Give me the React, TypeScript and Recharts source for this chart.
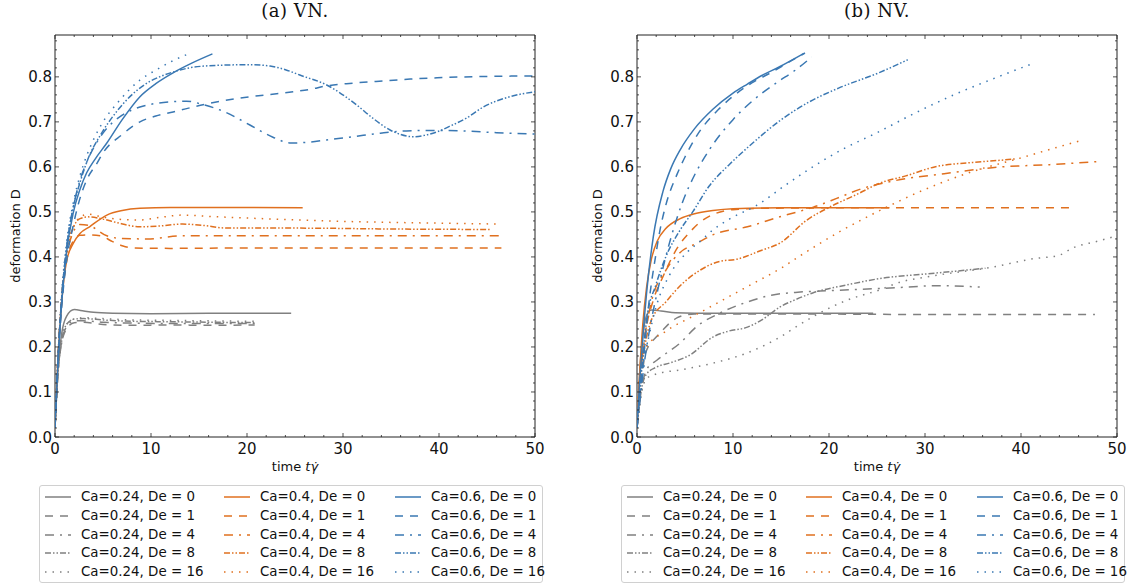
import { LineChart, Line, XAxis, YAxis, ReferenceArea } from "recharts";

type Pt = [number, number];

// ---- (a) VN. ----
const vnGray0: Pt[] = [[0, 0.02], [0.3, 0.15], [0.7, 0.23], [1.2, 0.268], [2, 0.283], [3, 0.28], [4, 0.277], [6, 0.275], [10, 0.274], [16, 0.275], [24.6, 0.275]];
const vnGray1: Pt[] = [[0, 0.02], [0.3, 0.14], [0.7, 0.21], [1.2, 0.24], [2, 0.254], [3, 0.255], [5, 0.25], [8, 0.248], [12, 0.249], [16, 0.248], [20.8, 0.249]];
const vnGray4: Pt[] = [[0, 0.02], [0.3, 0.14], [0.7, 0.21], [1.2, 0.245], [2, 0.258], [3, 0.258], [5, 0.255], [8, 0.253], [12, 0.252], [16, 0.252], [20.8, 0.252]];
const vnGray8: Pt[] = [[0, 0.02], [0.3, 0.14], [0.7, 0.215], [1.2, 0.25], [2, 0.262], [3, 0.263], [5, 0.26], [8, 0.257], [12, 0.256], [16, 0.255], [20.8, 0.254]];
const vnGray16: Pt[] = [[0, 0.02], [0.3, 0.14], [0.7, 0.215], [1.2, 0.25], [2, 0.262], [3, 0.265], [5, 0.263], [8, 0.26], [12, 0.259], [16, 0.258], [20.8, 0.257]];

const vnOrange0: Pt[] = [[0, 0.02], [0.3, 0.17], [0.7, 0.3], [1.2, 0.39], [1.9, 0.43], [2.6, 0.452], [3.6, 0.467], [5.4, 0.493], [7, 0.503], [8.85, 0.508], [12, 0.51], [18, 0.51], [25.8, 0.509]];
const vnOrange1: Pt[] = [[0, 0.02], [0.3, 0.17], [0.7, 0.3], [1.2, 0.39], [1.9, 0.435], [2.6, 0.448], [3.3, 0.449], [4.7, 0.447], [6, 0.434], [7, 0.425], [8.1, 0.42], [12, 0.419], [20, 0.42], [30, 0.42], [40, 0.42], [46.5, 0.42]];
const vnOrange4: Pt[] = [[0, 0.02], [0.3, 0.17], [0.7, 0.31], [1.2, 0.4], [1.9, 0.455], [2.6, 0.472], [3.5, 0.47], [5.4, 0.447], [7, 0.441], [9.6, 0.44], [13.3, 0.447], [20, 0.447], [30, 0.447], [40, 0.447], [46.5, 0.447]];
const vnOrange8: Pt[] = [[0, 0.02], [0.3, 0.17], [0.7, 0.31], [1.2, 0.41], [1.9, 0.465], [2.6, 0.485], [3.5, 0.489], [5, 0.484], [6.5, 0.476], [8.85, 0.467], [11, 0.469], [13.3, 0.473], [15.5, 0.47], [17.9, 0.464], [25.5, 0.464], [35, 0.462], [45.3, 0.461]];
const vnOrange16: Pt[] = [[0, 0.02], [0.3, 0.17], [0.7, 0.31], [1.2, 0.41], [1.9, 0.465], [2.6, 0.488], [3.5, 0.495], [4.4, 0.491], [6.5, 0.484], [8.85, 0.482], [11, 0.488], [13.3, 0.493], [16, 0.49], [19.3, 0.487], [25.5, 0.482], [30, 0.479], [40, 0.475], [46.5, 0.473]];

const vnBlue0: Pt[] = [[0, 0.02], [0.3, 0.16], [0.7, 0.3], [1.2, 0.41], [1.9, 0.498], [2.6, 0.55], [3.3, 0.587], [4.2, 0.618], [5.4, 0.653], [7, 0.705], [8.85, 0.756], [10.5, 0.785], [12.3, 0.809], [14.3, 0.831], [16.4, 0.851]];
const vnBlue1: Pt[] = [[0, 0.02], [0.3, 0.16], [0.7, 0.29], [1.2, 0.39], [1.9, 0.47], [2.6, 0.53], [3.3, 0.571], [4.4, 0.609], [5, 0.631], [7, 0.672], [8.85, 0.7], [10.5, 0.713], [12.3, 0.722], [15.8, 0.74], [19.3, 0.753], [22, 0.76], [24.8, 0.767], [26.5, 0.772], [28.3, 0.78], [31, 0.786], [34.2, 0.791], [37, 0.795], [39.8, 0.798], [45, 0.801], [50, 0.802]];
const vnBlue4: Pt[] = [[0, 0.02], [0.3, 0.17], [0.7, 0.31], [1.2, 0.42], [1.9, 0.51], [2.6, 0.57], [3.5, 0.62], [5, 0.675], [7, 0.715], [8.85, 0.733], [10.5, 0.741], [12.3, 0.745], [13.7, 0.746], [15.5, 0.738], [17.7, 0.722], [20.3, 0.693], [22.7, 0.666], [24.6, 0.653], [26.5, 0.655], [28.3, 0.66], [31, 0.667], [33.9, 0.675], [36.6, 0.68], [39.5, 0.681], [42.5, 0.68], [46, 0.676], [50, 0.673]];
const vnBlue8: Pt[] = [[0, 0.02], [0.3, 0.17], [0.7, 0.31], [1.2, 0.42], [1.9, 0.51], [2.6, 0.565], [3.3, 0.61], [5, 0.68], [6.5, 0.725], [8, 0.76], [9.5, 0.785], [11, 0.801], [12.5, 0.812], [14, 0.82], [15.5, 0.824], [17.5, 0.826], [20.3, 0.827], [22.4, 0.824], [24, 0.816], [25.5, 0.804], [28.3, 0.782], [31.4, 0.738], [33, 0.71], [34.9, 0.682], [36, 0.672], [37.3, 0.667], [38.5, 0.67], [39.8, 0.678], [41.3, 0.692], [42.9, 0.709], [44.6, 0.733], [47.4, 0.756], [50, 0.767]];
const vnBlue16: Pt[] = [[0, 0.02], [0.3, 0.17], [0.7, 0.32], [1.2, 0.43], [1.9, 0.52], [2.6, 0.58], [3.3, 0.625], [4, 0.66], [5, 0.7], [6.5, 0.742], [8.85, 0.793], [10.5, 0.815], [12.3, 0.836], [13.9, 0.851]];

// ---- (b) NV. ----
const nvGray0: Pt[] = [[0, 0.02], [0.3, 0.15], [0.7, 0.24], [1, 0.27], [1.5, 0.282], [2.5, 0.28], [4, 0.276], [6, 0.275], [12, 0.275], [18, 0.275], [24.6, 0.275]];
const nvGray1: Pt[] = [[0, 0.02], [0.3, 0.09], [0.9, 0.187], [2, 0.222], [2.7, 0.238], [3.5, 0.255], [4.2, 0.265], [5, 0.271], [6, 0.273], [10, 0.273], [20, 0.273], [30, 0.272], [40, 0.272], [47.7, 0.272]];
const nvGray4: Pt[] = [[0, 0.02], [0.3, 0.08], [1, 0.15], [2.1, 0.171], [4.5, 0.209], [6.2, 0.245], [8.6, 0.275], [11.5, 0.3], [14, 0.315], [17, 0.322], [20, 0.325], [22.2, 0.327], [26.4, 0.331], [31.4, 0.336], [35.7, 0.333]];
const nvGray8: Pt[] = [[0, 0.02], [0.5, 0.11], [1, 0.14], [2, 0.155], [3.5, 0.165], [5.5, 0.182], [7.9, 0.222], [9.5, 0.235], [11.5, 0.244], [13, 0.26], [14.9, 0.289], [16.5, 0.305], [18.3, 0.32], [21.9, 0.338], [25.3, 0.352], [30, 0.362], [33, 0.368], [36.3, 0.375]];
const nvGray16: Pt[] = [[0, 0.02], [0.5, 0.1], [1, 0.13], [2, 0.14], [4.5, 0.149], [7.9, 0.164], [11.5, 0.187], [14.9, 0.222], [16.6, 0.245], [18.3, 0.267], [21.9, 0.304], [25.3, 0.327], [27.4, 0.344], [30, 0.355], [33, 0.365], [36.4, 0.375], [41.3, 0.396], [44, 0.404], [45.4, 0.42], [48, 0.435], [50, 0.447]];

const nvOrange0: Pt[] = [[0, 0.02], [0.3, 0.15], [0.6, 0.25], [1, 0.333], [1.5, 0.395], [2.1, 0.435], [3, 0.463], [4.5, 0.485], [6, 0.496], [7.9, 0.503], [10, 0.507], [15, 0.509], [20, 0.509], [26.3, 0.509]];
const nvOrange1: Pt[] = [[0, 0.02], [0.3, 0.12], [0.8, 0.22], [1.7, 0.304], [2.7, 0.356], [4.2, 0.42], [5.5, 0.455], [6.5, 0.476], [8, 0.495], [10, 0.505], [13, 0.508], [20, 0.509], [30, 0.509], [40, 0.509], [45.1, 0.509]];
const nvOrange4: Pt[] = [[0, 0.02], [0.3, 0.12], [0.8, 0.22], [1.5, 0.3], [3, 0.37], [4.5, 0.41], [6.2, 0.43], [8, 0.45], [11.5, 0.467], [15, 0.49], [18.3, 0.51], [20.8, 0.53], [23.2, 0.55], [27, 0.57], [32, 0.585], [38, 0.6], [43, 0.605], [48.2, 0.612]];
const nvOrange8: Pt[] = [[0, 0.02], [0.3, 0.12], [0.8, 0.2], [1.5, 0.26], [3, 0.3], [4.8, 0.342], [6.6, 0.371], [8.6, 0.39], [10.4, 0.395], [13, 0.415], [14.9, 0.431], [17.7, 0.482], [20, 0.51], [23, 0.54], [25.3, 0.564], [28, 0.58], [31, 0.6], [35, 0.61], [38, 0.615], [39.5, 0.618]];
const nvOrange16: Pt[] = [[0, 0.02], [0.3, 0.15], [1, 0.2], [3, 0.235], [6, 0.27], [9, 0.305], [12, 0.34], [15, 0.375], [17.1, 0.404], [21.1, 0.456], [25, 0.5], [30, 0.55], [35, 0.59], [40, 0.62], [44, 0.645], [46.5, 0.66]];

const nvBlue0: Pt[] = [[0, 0.02], [0.3, 0.13], [0.6, 0.22], [1, 0.32], [1.7, 0.445], [2.7, 0.545], [3.5, 0.595], [4.5, 0.638], [6, 0.685], [7.9, 0.728], [10, 0.764], [11.5, 0.784], [13, 0.803], [14.9, 0.823], [17.3, 0.851]];
const nvBlue1: Pt[] = [[0, 0.02], [0.3, 0.1], [0.7, 0.18], [1.2, 0.29], [2, 0.41], [2.4, 0.46], [3, 0.515], [4.2, 0.585], [5, 0.622], [6.25, 0.67], [8.6, 0.73], [10, 0.757], [12, 0.787], [14, 0.81], [16, 0.835], [17.5, 0.853]];
const nvBlue4: Pt[] = [[0, 0.02], [0.3, 0.08], [0.8, 0.17], [1.5, 0.26], [2.2, 0.33], [3.5, 0.44], [4.8, 0.525], [6, 0.582], [7.6, 0.64], [10, 0.705], [12.1, 0.748], [14.6, 0.788], [16.5, 0.815], [18.2, 0.844]];
const nvBlue8: Pt[] = [[0, 0.02], [0.3, 0.1], [0.7, 0.2], [1, 0.26], [2, 0.34], [3, 0.4], [4.5, 0.46], [5.8, 0.5], [7.5, 0.557], [9.7, 0.607], [12, 0.652], [14.9, 0.703], [18, 0.745], [21, 0.775], [25.3, 0.81], [28.2, 0.838]];
const nvBlue16: Pt[] = [[0, 0.02], [0.3, 0.1], [0.7, 0.17], [1.2, 0.22], [2, 0.29], [3.4, 0.36], [5.2, 0.41], [6.6, 0.435], [7.9, 0.46], [9.7, 0.485], [12.5, 0.515], [15.5, 0.56], [18.3, 0.6], [21.5, 0.64], [25, 0.676], [29, 0.72], [33, 0.76], [37, 0.795], [40.9, 0.827]];

const caLabels = ["0.24", "0.4", "0.6"];
const deValues = [0, 1, 4, 8, 16];
const xMajor = [0, 10, 20, 30, 40, 50];
const yMajor = [0, 0.1, 0.2, 0.3, 0.4, 0.5, 0.6, 0.7, 0.8];

const COLORS = ["#808080", "#e0701f", "#3a78b3"];
const DASHES = ["", "8 7", "9 6 2 6", "6 2 1.5 2 1.5 2", "1.5 6"];

const vnSets: Pt[][][] = [
  [vnGray0, vnGray1, vnGray4, vnGray8, vnGray16],
  [vnOrange0, vnOrange1, vnOrange4, vnOrange8, vnOrange16],
  [vnBlue0, vnBlue1, vnBlue4, vnBlue8, vnBlue16],
];
const nvSets: Pt[][][] = [
  [nvGray0, nvGray1, nvGray4, nvGray8, nvGray16],
  [nvOrange0, nvOrange1, nvOrange4, nvOrange8, nvOrange16],
  [nvBlue0, nvBlue1, nvBlue4, nvBlue8, nvBlue16],
];

const xTicks = Array.from({ length: 26 }, (_, i) => i * 2);
const yTicks = Array.from({ length: 45 }, (_, i) => +(i * 0.02).toFixed(2));
const Y_MAX = 0.893;

const CH_W = 554;
const CH_H = 460;
const PL = 55, PT = 35, PW = 480, PH = 402;
const FONT = "'DejaVu Sans', sans-serif";
const AX = "#222";

const isMajorY = (v: number) => yMajor.some((m) => Math.abs(m - v) < 1e-6);

const XTick = (props: any) => {
  const { x, y, payload } = props;
  const major = xMajor.includes(payload.value);
  const len = major ? 4 : 2;
  return (
    <g>
      <line x1={x} y1={y} x2={x} y2={y - len} stroke={AX} strokeWidth={0.8} />
      <line x1={x} y1={y - PH} x2={x} y2={y - PH + len} stroke={AX} strokeWidth={0.8} />
      {major && (
        <text x={x} y={y + 17} textAnchor="middle" fontSize={15} fontFamily={FONT} fill="#111">
          {payload.value}
        </text>
      )}
    </g>
  );
};

const YTick = (props: any) => {
  const { x, y, payload } = props;
  const major = isMajorY(payload.value);
  const len = major ? 4 : 2;
  return (
    <g>
      <line x1={x} y1={y} x2={x + len} y2={y} stroke={AX} strokeWidth={0.8} />
      <line x1={x + PW} y1={y} x2={x + PW - len} y2={y} stroke={AX} strokeWidth={0.8} />
      {major && (
        <text x={x - 3} y={y + 5.5} textAnchor="end" fontSize={15} fontFamily={FONT} fill="#111">
          {payload.value.toFixed(1)}
        </text>
      )}
    </g>
  );
};

function Panel({ sets }: { sets: Pt[][][] }) {
  return (
    <LineChart width={CH_W} height={CH_H} margin={{ top: PT, right: CH_W - PL - PW, bottom: CH_H - PT - PH - 20, left: 0 }}>
      <XAxis
        dataKey="t"
        type="number"
        domain={[0, 50]}
        ticks={xTicks}
        interval={0}
        allowDataOverflow
        height={20}
        tickSize={0}
        tickMargin={0}
        tickLine={false}
        axisLine={false}
        tick={<XTick />}
      />
      <YAxis
        type="number"
        domain={[0, Y_MAX]}
        ticks={yTicks}
        interval={0}
        allowDataOverflow
        width={PL}
        tickSize={0}
        tickMargin={0}
        tickLine={false}
        axisLine={false}
        tick={<YTick />}
      />
      {sets.map((group, ci) =>
        group.map((pts, di) => (
          <Line
            key={`${ci}-${di}`}
            data={pts.map(([t, d]) => ({ t, d }))}
            dataKey="d"
            type="monotone"
            stroke={COLORS[ci]}
            strokeWidth={1.5}
            strokeDasharray={DASHES[di] || undefined}
            dot={false}
            activeDot={false}
            isAnimationActive={false}
          />
        ))
      )}
      <ReferenceArea x1={0} x2={50} y1={0} y2={Y_MAX} fill="none" stroke={AX} strokeWidth={1} fillOpacity={0} />
    </LineChart>
  );
}

function LegendBox({ left }: { left: number }) {
  const colX = [5, 184, 355];
  const textX = [41, 220, 391];
  return (
    <div
      style={{
        position: "absolute",
        left,
        top: 485,
        width: 504,
        height: 98,
        border: "1px solid #d0d0d0",
        borderRadius: 3,
        boxSizing: "border-box",
        background: "#fff",
      }}
    >
      {caLabels.map((ca, ci) =>
        deValues.map((de, di) => (
          <div key={`${ci}-${di}`} style={{ position: "absolute", left: 0, top: 2 + di * 18.8, height: 18, width: "100%" }}>
            <svg width={26} height={18} style={{ position: "absolute", left: colX[ci], top: 0 }}>
              <line x1={0} y1={9} x2={26} y2={9} stroke={COLORS[ci]} strokeWidth={1.5} strokeDasharray={DASHES[di] || undefined} />
            </svg>
            <span
              style={{
                position: "absolute",
                left: textX[ci],
                top: 0,
                lineHeight: "18px",
                fontSize: 13.4,
                fontFamily: FONT,
                color: "#111",
                whiteSpace: "nowrap",
              }}
            >
              {`Ca=${ca}, De = ${de}`}
            </span>
          </div>
        ))
      )}
    </div>
  );
}

function Labels({ cx, ylx, title }: { cx: number; ylx: number; title: string }) {
  return (
    <>
      <text x={cx} y={17} textAnchor="middle" fontSize={18} letterSpacing={0.5} fontFamily="'DejaVu Serif', serif" fill="#111">
        {title}
      </text>
      <text x={cx} y={471} textAnchor="middle" fontSize={13} fontFamily={FONT} fill="#111">
        time <tspan fontStyle="italic">tγ̇</tspan>
      </text>
      <text
        x={ylx}
        y={236}
        textAnchor="middle"
        fontSize={13}
        fontFamily={FONT}
        fill="#111"
        transform={`rotate(-90 ${ylx} 236)`}
      >
        deformation D
      </text>
    </>
  );
}

export default function App() {
  return (
    <div style={{ position: "absolute", left: 0, top: 0, width: 1136, height: 588, background: "#fff", overflow: "hidden" }}>
      <svg width={1136} height={588} style={{ position: "absolute", left: 0, top: 0 }}>
        <Labels cx={295} ylx={20} title="(a) VN." />
        <Labels cx={877} ylx={602} title="(b) NV." />
      </svg>
      <div style={{ position: "absolute", left: 0, top: 0 }}>
        <Panel sets={vnSets} />
      </div>
      <div style={{ position: "absolute", left: 582, top: 0 }}>
        <Panel sets={nvSets} />
      </div>
      <LegendBox left={39} />
      <LegendBox left={621} />
    </div>
  );
}
